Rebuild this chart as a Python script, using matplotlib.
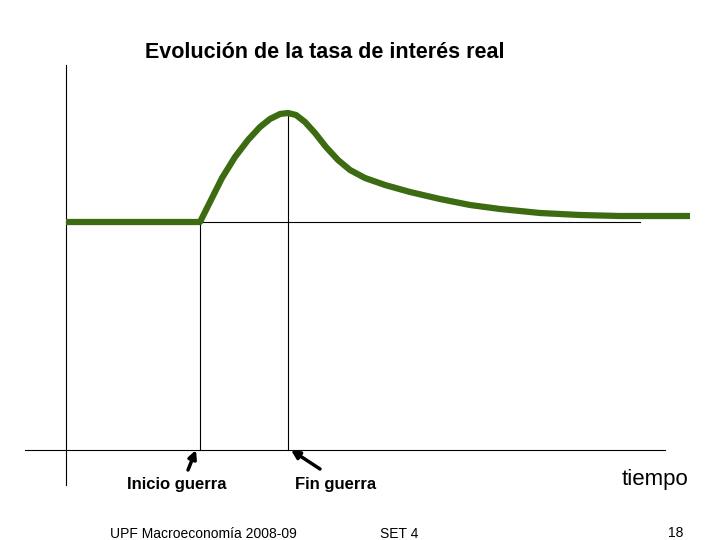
import matplotlib
matplotlib.use("Agg")
import matplotlib.pyplot as plt

# curve data (time, rate) in slide units
curve_t = [66, 200, 210, 222, 235, 248, 260, 270, 280, 288, 296, 305, 315, 326, 338, 350, 365, 385, 410, 440, 470, 500, 540, 580, 620, 690]
curve_r = [222, 222, 202, 178, 157, 140, 127, 119, 114, 113, 115, 122, 133, 147, 160, 170, 178, 185, 192, 199, 205, 209, 213, 215, 216, 216]
base_rate = 222
war_start, war_end = 200, 288
peak_rate = 113

fig = plt.figure(figsize=(7.2, 5.4), dpi=100)
ax = fig.add_axes([0, 0, 1, 1])
ax.set_xlim(0, 720); ax.set_ylim(540, 0); ax.axis("off")
ff = ["Liberation Sans", "DejaVu Sans"]

ax.plot([66, 66], [65, 485], color="black", lw=0.8)
ax.plot([25, 665], [450, 450], color="black", lw=0.8)
ax.plot([66, 640], [base_rate, base_rate], color="black", lw=0.8)
ax.plot([war_start, war_start], [base_rate, 450], color="black", lw=0.8)
ax.plot([war_end, war_end], [peak_rate, 450], color="black", lw=0.8)
ax.plot(curve_t, curve_r, color="#3d6b12", lw=4.5, solid_capstyle="butt")

ax.annotate("", xy=(196, 450), xytext=(188, 470),
            arrowprops=dict(arrowstyle="-|>", color="black", lw=2.5, mutation_scale=12,
                            shrinkA=0, shrinkB=0))
ax.annotate("", xy=(291, 450), xytext=(320, 469),
            arrowprops=dict(arrowstyle="-|>", color="black", lw=2.5, mutation_scale=12,
                            shrinkA=0, shrinkB=0))

ax.text(145, 52, "Evolución de la tasa de interés real", fontsize=15.5, fontweight="bold", family=ff, va="center")
ax.text(127, 484, "Inicio guerra", fontsize=12, fontweight="bold", family=ff, va="center")
ax.text(295, 485, "Fin guerra", fontsize=12, fontweight="bold", family=ff, va="center")
ax.text(622, 479, "tiempo", fontsize=16, family=ff, va="center")
ax.text(110, 534, "UPF Macroeconomía 2008-09", fontsize=10, family=ff, va="center")
ax.text(380, 534, "SET 4", fontsize=10, family=ff, va="center")
ax.text(668, 533, "18", fontsize=10, family=ff, va="center")

fig.savefig("out.png", dpi=100)
